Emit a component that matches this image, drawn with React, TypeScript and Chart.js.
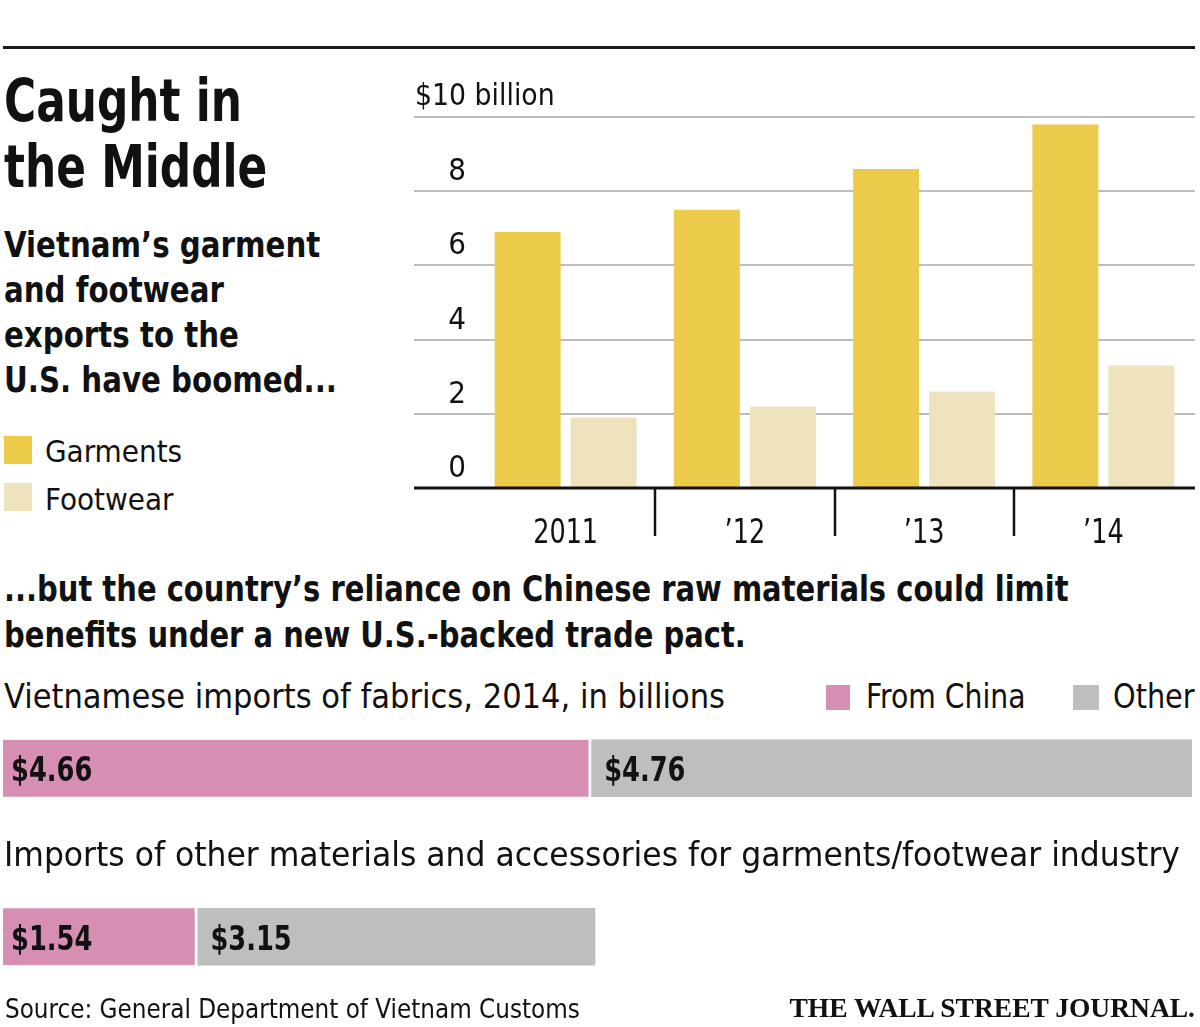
import React, { useEffect, useRef } from 'react';
import { Chart, registerables } from 'chart.js';

Chart.register(...registerables);

// ---------- data ----------
const years = ['2011', '\u201912', '\u201913', '\u201914'];
const garments = [6.9, 7.5, 8.6, 9.8];
const footwear = [1.9, 2.2, 2.6, 3.3];
const yMax = 10;
const yStep = 2;
const yUnitLabel = '$10 billion';

const importGroups = ['Fabrics', 'Other materials and accessories'];
const fromChina = [4.66, 1.54];
const otherSource = [4.76, 3.15];

// ---------- styles ----------
const SANS = '"Liberation Sans Narrow", "DejaVu Sans Condensed", sans-serif';
const SERIF = '"Liberation Serif", "DejaVu Serif", serif';
const COLORS = {
  garments: '#EDCB4A',
  footwear: '#EFE3BD',
  china: '#D68FB3',
  other: '#BEBEBE',
  grid: '#BDBDBD',
  ink: '#111111',
};

type TxtProps = {
  x?: number;
  right?: number;
  base: number;
  size: number;
  lh: number;
  weight?: number | string;
  family?: string;
  color?: string;
  spacing?: number;
  sx?: number;
  children: React.ReactNode;
};

function Txt({ x, right, base, size, lh, weight = 400, family = SANS, color = COLORS.ink, spacing, sx = 1, children }: TxtProps) {
  const top = base - (lh - 1.117 * size) / 2 - 0.905 * size;
  const style: React.CSSProperties = {
    position: 'absolute',
    top,
    fontFamily: family,
    fontSize: size,
    lineHeight: lh + 'px',
    fontWeight: weight as any,
    whiteSpace: 'nowrap',
    color,
    letterSpacing: spacing,
    transform: sx !== 1 ? `scaleX(${sx})` : undefined,
    transformOrigin: right !== undefined ? 'right top' : 'left top',
  };
  if (right !== undefined) style.right = right;
  else style.left = x;
  return <div style={style}>{children}</div>;
}

function Swatch({ x, y, w, h, color }: { x: number; y: number; w: number; h: number; color: string }) {
  return <div style={{ position: 'absolute', left: x, top: y, width: w, height: h, background: color }} />;
}

function condensedText(ctx: CanvasRenderingContext2D, text: string, x: number, y: number, sx: number) {
  ctx.save();
  ctx.translate(x, y);
  ctx.scale(sx, 1);
  ctx.fillText(text, 0, 0);
  ctx.restore();
}

// ---------- top chart plugin ----------
const topDecor = {
  id: 'topDecor',
  beforeDatasetsDraw(chart: any) {
    const { ctx, chartArea, scales } = chart;
    const y = scales.y;
    ctx.save();
    ctx.strokeStyle = COLORS.grid;
    ctx.lineWidth = 2;
    y.ticks.forEach((t: any) => {
      if (t.value <= 0) return;
      const py = Math.round(y.getPixelForValue(t.value));
      ctx.beginPath();
      ctx.moveTo(0, py);
      ctx.lineTo(chartArea.right + 2, py);
      ctx.stroke();
    });
    ctx.restore();
  },
  afterDatasetsDraw(chart: any) {
    const { ctx, chartArea, scales } = chart;
    const y = scales.y;
    const x = scales.x;
    const y0 = Math.round(y.getPixelForValue(0));
    ctx.save();
    // baseline
    ctx.strokeStyle = COLORS.ink;
    ctx.lineWidth = 3;
    ctx.beginPath();
    ctx.moveTo(0, y0);
    ctx.lineTo(chartArea.right + 2, y0);
    ctx.stroke();
    // category separators
    ctx.lineWidth = 2.5;
    const n = chart.data.labels.length;
    for (let i = 1; i < n; i++) {
      const px = Math.round((x.getPixelForValue(i - 1) + x.getPixelForValue(i)) / 2);
      ctx.beginPath();
      ctx.moveTo(px, y0);
      ctx.lineTo(px, y0 + 48);
      ctx.stroke();
    }
    // y tick labels above gridlines
    ctx.fillStyle = COLORS.ink;
    ctx.font = `31px ${SANS}`;
    ctx.textBaseline = 'alphabetic';
    y.ticks.forEach((t: any) => {
      const py = y.getPixelForValue(t.value);
      if (t.value === yMax) {
        ctx.textAlign = 'left';
        condensedText(ctx, yUnitLabel, 1, py - 12, 0.96);
      } else {
        ctx.textAlign = 'right';
        ctx.fillText(String(t.value), 52, py - 11);
      }
    });
    // x category labels
    ctx.textAlign = 'center';
    ctx.font = `33px ${SANS}`;
    chart.data.labels.forEach((lab: string, i: number) => {
      condensedText(ctx, lab, x.getPixelForValue(i), y0 + 55, 0.86);
    });
    ctx.restore();
  },
};

// ---------- bottom chart plugin ----------
const valueLabels = {
  id: 'valueLabels',
  afterDatasetsDraw(chart: any) {
    const { ctx } = chart;
    ctx.save();
    ctx.fillStyle = COLORS.ink;
    ctx.font = `bold 34px ${SANS}`;
    ctx.textAlign = 'left';
    ctx.textBaseline = 'alphabetic';
    chart.data.datasets.forEach((ds: any, di: number) => {
      const meta = chart.getDatasetMeta(di);
      meta.data.forEach((el: any, i: number) => {
        const left = Math.min(el.base, el.x);
        condensedText(ctx, '$' + Number(ds.data[i]).toFixed(2), left + (di === 0 ? 8 : 13), el.y + 13, 0.84);
      });
    });
    ctx.restore();
  },
};

function TopChart() {
  const ref = useRef<HTMLCanvasElement>(null);
  useEffect(() => {
    if (!ref.current) return;
    const chart = new Chart(ref.current, {
      type: 'bar',
      data: {
        labels: years,
        datasets: [
          { label: 'Garments', data: garments, backgroundColor: COLORS.garments, categoryPercentage: 0.848, barPercentage: 0.868 },
          { label: 'Footwear', data: footwear, backgroundColor: COLORS.footwear, categoryPercentage: 0.848, barPercentage: 0.868 },
        ],
      },
      options: {
        responsive: false,
        animation: false,
        events: [],
        layout: { padding: { left: 62, right: 7, top: 57, bottom: 62 } },
        plugins: { legend: { display: false }, tooltip: { enabled: false } },
        scales: {
          x: { type: 'category', display: false },
          y: { type: 'linear', display: false, min: 0, max: yMax, ticks: { stepSize: yStep } },
        },
      },
      plugins: [topDecor],
    });
    return () => chart.destroy();
  }, []);
  return (
    <canvas
      ref={ref}
      width={786}
      height={490}
      style={{ position: 'absolute', left: 414, top: 60, width: 786, height: 490 }}
    />
  );
}

function BottomChart() {
  const ref = useRef<HTMLCanvasElement>(null);
  useEffect(() => {
    if (!ref.current) return;
    const total = fromChina[0] + otherSource[0];
    const chart = new Chart(ref.current, {
      type: 'bar',
      data: {
        labels: importGroups,
        datasets: [
          {
            label: 'From China',
            data: fromChina,
            backgroundColor: COLORS.china,
            borderColor: '#ffffff',
            borderWidth: { top: 0, left: 0, bottom: 0, right: 3 },
            borderSkipped: false,
            barThickness: 57,
          },
          { label: 'Other', data: otherSource, backgroundColor: COLORS.other, borderWidth: 0, barThickness: 57 },
        ],
      },
      options: {
        indexAxis: 'y',
        responsive: false,
        animation: false,
        events: [],
        layout: { padding: { left: 3, right: 8, top: 0, bottom: 0 } },
        plugins: { legend: { display: false }, tooltip: { enabled: false } },
        scales: {
          x: { type: 'linear', stacked: true, display: false, min: 0, max: total },
          y: { type: 'category', stacked: true, display: false },
        },
      },
      plugins: [valueLabels],
    });
    return () => chart.destroy();
  }, []);
  return (
    <canvas
      ref={ref}
      width={1200}
      height={337}
      style={{ position: 'absolute', left: 0, top: 684, width: 1200, height: 337 }}
    />
  );
}

export default function App() {
  useEffect(() => {
    document.body.style.margin = '0';
    document.body.style.overflow = 'hidden';
  }, []);
  return (
    <div style={{ position: 'absolute', left: 0, top: 0, width: 1200, height: 1027, background: '#fff', overflow: 'hidden' }}>
      <div style={{ position: 'absolute', left: 3, top: 46, width: 1192, height: 2.5, background: '#1a1a1a' }} />

      <Txt x={4} base={121} size={58} lh={66} weight={700} sx={0.84}>
        Caught in
        <br />
        the Middle
      </Txt>

      <Txt x={4} base={258} size={35} lh={45} weight={700} sx={0.93}>
        Vietnam’s garment
        <br />
        and footwear
        <br />
        exports to the
        <br />
        U.S. have boomed...
      </Txt>

      <Swatch x={4} y={436} w={28} h={28} color={COLORS.garments} />
      <Txt x={45} base={462} size={31} lh={36}>Garments</Txt>
      <Swatch x={4} y={483} w={28} h={28} color={COLORS.footwear} />
      <Txt x={45} base={510} size={31} lh={36}>Footwear</Txt>

      <TopChart />

      <Txt x={4} base={601} size={36} lh={46} weight={700} sx={0.895}>
        ...but the country’s reliance on Chinese raw materials could limit
        <br />
        benefits under a new U.S.-backed trade pact.
      </Txt>

      <Txt x={4} base={708} size={34} lh={40}>Vietnamese imports of fabrics, 2014, in billions</Txt>
      <Swatch x={826} y={685} w={24} h={25} color={COLORS.china} />
      <Txt x={866} base={708} size={34} lh={40} sx={0.925}>From China</Txt>
      <Swatch x={1073} y={685} w={26} h={25} color={COLORS.other} />
      <Txt x={1113} base={708} size={34} lh={40} sx={0.94}>Other</Txt>

      <BottomChart />

      <Txt x={4} base={866} size={34} lh={40} sx={1.028}>Imports of other materials and accessories for garments/footwear industry</Txt>

      <Txt x={5} base={1018} size={27} lh={32} sx={0.953}>Source: General Department of Vietnam Customs</Txt>
      <Txt right={5} base={1018} size={27.5} lh={32} weight={700} family={SERIF}>THE WALL STREET JOURNAL.</Txt>
    </div>
  );
}
